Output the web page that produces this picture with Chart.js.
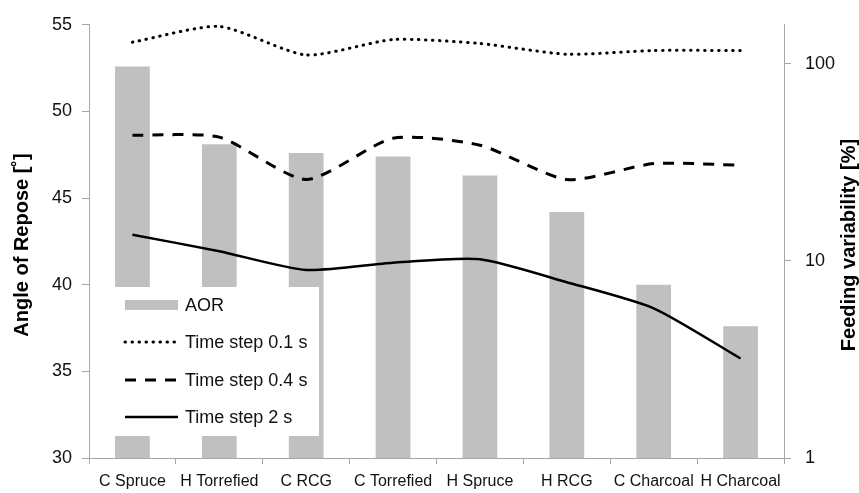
<!DOCTYPE html>
<html>
<head>
<meta charset="utf-8">
<script src="https://cdn.jsdelivr.net/npm/chart.js@4.4.1/dist/chart.umd.min.js"></script>
<style>
  html, body { margin: 0; padding: 0; background: #fff; }
</style>
</head>
<body>
<canvas id="c" width="859" height="493"></canvas>
<script>
// ---- data ----
const categories = ['C Spruce', 'H Torrefied', 'C RCG', 'C Torrefied', 'H Spruce', 'H RCG', 'C Charcoal', 'H Charcoal'];
const aor       = [52.6, 48.1, 47.6, 47.4, 46.3, 44.2, 40.0, 37.6];   // angle of repose [deg]
const step01    = [129, 155, 111, 133, 127, 112, 117, 117];           // feeding variability [%]
const step04    = [43.5, 42.5, 25.9, 42.0, 38.7, 25.9, 31.2, 30.6];
const step2     = [13.6, 11.2, 9.0, 9.8, 10.2, 7.8, 5.75, 3.2];
const rightTicks = [1, 10, 100];

const FONT = 'Liberation Sans, Arial, sans-serif';
const AXIS = '#a6a6a6';

// ---- legend drawn inside the plot area (white box over the bars) ----
const boxLegend = {
  id: 'boxLegend',
  afterDatasetsDraw(chart) {
    const ctx = chart.ctx;
    ctx.save();
    ctx.fillStyle = '#fff';
    ctx.fillRect(100, 287, 219, 149);
    const x0 = 125, x1 = 178, tx = 185;
    const rows = [305, 342, 380, 417];
    ctx.font = '18px ' + FONT;
    ctx.textBaseline = 'middle';
    chart.data.datasets.forEach((ds, i) => {
      const y = rows[i];
      if (ds.type === 'bar') {
        ctx.fillStyle = ds.backgroundColor;
        ctx.fillRect(x0, y - 5, x1 - x0, 10);
      } else {
        ctx.strokeStyle = ds.borderColor;
        ctx.lineWidth = ds.borderWidth;
        ctx.lineCap = ds.borderCapStyle || 'butt';
        ctx.setLineDash(ds.borderDash || []);
        ctx.beginPath();
        ctx.moveTo(x0, y); ctx.lineTo(x1, y);
        ctx.stroke();
        ctx.setLineDash([]);
      }
      ctx.fillStyle = '#111';
      ctx.fillText(ds.label, tx, y + 1);
    });
    ctx.restore();
  }
};

// ---- axis titles, both reading bottom-to-top ----
const axisTitles = {
  id: 'axisTitles',
  afterDraw(chart) {
    const ctx = chart.ctx;
    const cy = 245;
    ctx.save();
    ctx.font = 'bold 20px ' + FONT;
    ctx.fillStyle = '#000';
    ctx.textAlign = 'center';
    ctx.textBaseline = 'middle';
    [[22, 'Angle of Repose [˚]'], [849, 'Feeding variability [%]']].forEach(([x, t]) => {
      ctx.save();
      ctx.translate(x, cy);
      ctx.rotate(-Math.PI / 2);
      ctx.fillText(t, 0, 0);
      ctx.restore();
    });
    ctx.restore();
  }
};

new Chart(document.getElementById('c').getContext('2d'), {
  data: {
    labels: categories,
    datasets: [
      {
        type: 'bar', label: 'AOR', data: aor, yAxisID: 'y', order: 4,
        backgroundColor: '#c0c0c0', barPercentage: 0.4, categoryPercentage: 1
      },
      {
        type: 'line', label: 'Time step 0.1 s', data: step01, yAxisID: 'y1', order: 1,
        borderColor: '#000', borderWidth: 3, borderDash: [0.5, 6.5], borderCapStyle: 'round',
        pointRadius: 0, tension: 0.22, fill: false
      },
      {
        type: 'line', label: 'Time step 0.4 s', data: step04, yAxisID: 'y1', order: 2,
        borderColor: '#000', borderWidth: 3, borderDash: [11, 9],
        pointRadius: 0, tension: 0.22, fill: false
      },
      {
        type: 'line', label: 'Time step 2 s', data: step2, yAxisID: 'y1', order: 3,
        borderColor: '#000', borderWidth: 2.5,
        pointRadius: 0, tension: 0.22, fill: false
      }
    ]
  },
  options: {
    responsive: false,
    animation: false,
    layout: { padding: { top: 19, left: 0, right: 0, bottom: 0 } },
    plugins: { legend: { display: false }, tooltip: { enabled: false } },
    scales: {
      x: {
        afterFit: s => { s.height = 35; },
        border: { color: AXIS, width: 1 },
        grid: { drawOnChartArea: false, tickLength: 6, color: AXIS, offset: true },
        ticks: { font: { family: FONT, size: 16 }, color: '#111', padding: 8, maxRotation: 0, autoSkip: false }
      },
      y: {
        position: 'left', min: 30, max: 55,
        afterFit: s => { s.width = 89; },
        border: { color: AXIS, width: 1 },
        grid: { drawOnChartArea: false, tickLength: 7, color: AXIS },
        ticks: { stepSize: 5, font: { family: FONT, size: 18 }, color: '#111', padding: 10 }
      },
      y1: {
        type: 'logarithmic', position: 'right', min: 1, max: 158,
        afterFit: s => { s.width = 75; },
        afterBuildTicks: s => { s.ticks = rightTicks.map(v => ({ value: v })); },
        border: { color: AXIS, width: 1 },
        grid: { drawOnChartArea: false, tickLength: 7, color: AXIS },
        ticks: { font: { family: FONT, size: 18 }, color: '#111', padding: 14, callback: v => String(v) }
      }
    }
  },
  plugins: [boxLegend, axisTitles]
});
</script>
</body>
</html>
